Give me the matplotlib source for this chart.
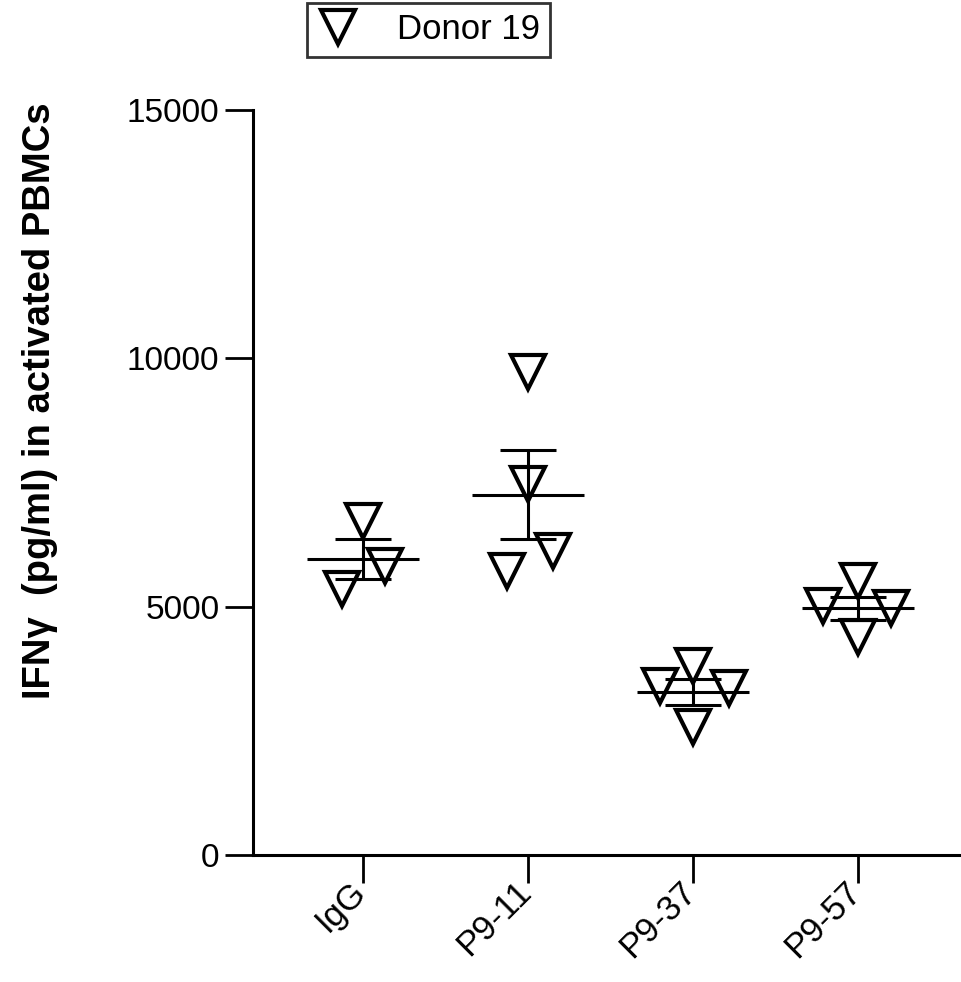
import matplotlib
matplotlib.use('Agg')
import matplotlib.pyplot as plt
from matplotlib.lines import Line2D
from matplotlib.transforms import ScaledTranslation
import numpy as np

plt.rcParams['font.family'] = ['Liberation Sans', 'DejaVu Sans']

# IFN-gamma readings (pg/ml) per antibody, one donor
groups = ['IgG', 'P9-11', 'P9-37', 'P9-57']
igg = [6727, 5818, 5354]
p9_11 = [9717, 7475, 6121, 5717]
p9_37 = [3798, 3394, 3354, 2586]
p9_57 = [5515, 5010, 4970, 4384]
values = [igg, p9_11, p9_37, p9_57]

# horizontal scatter of the points inside each column
spread = [[0, 0.13, -0.13],
          [0, 0, 0.15, -0.13],
          [0, -0.2, 0.22, 0],
          [0, -0.21, 0.2, 0]]

fig = plt.figure(figsize=(9.61, 9.82), dpi=100)
ax = fig.add_axes([0.263, 0.1293, 0.736, 0.7587])

for i, (vals, dx) in enumerate(zip(values, spread)):
    vals = np.array(vals, dtype=float)
    xs = i + np.array(dx)
    ax.plot(xs, vals, 'v', ms=25, mfc='none', mec='black', mew=3,
            zorder=3, clip_on=False)
    mean = vals.mean()
    sem = vals.std(ddof=1) / np.sqrt(len(vals))
    ax.hlines(mean, i - 0.34, i + 0.34, color='black', lw=2.2, zorder=2)
    ax.errorbar(i, mean, yerr=sem, fmt='none', ecolor='black', elinewidth=2.2,
                capsize=20, capthick=2.2, zorder=2)

ax.set_xlim(-0.67, 3.62)
ax.set_ylim(0, 15000)
ax.set_yticks([0, 5000, 10000, 15000])
ax.set_xticks(range(len(groups)))
ax.set_xticklabels(groups, rotation=45, ha='right', va='center',
                   rotation_mode='anchor')
ax.tick_params(axis='both', length=20, width=2, color='black')
ax.tick_params(axis='y', labelsize=24, pad=4)
ax.tick_params(axis='x', labelsize=25, pad=3)
# nudge the slanted category names so they end right under the ticks
shift = ScaledTranslation(-1.5 / 72, 0, fig.dpi_scale_trans)
for lbl in ax.get_xticklabels():
    lbl.set_transform(lbl.get_transform() + shift)

for side in ['top', 'right']:
    ax.spines[side].set_visible(False)
for side in ['left', 'bottom']:
    ax.spines[side].set_linewidth(2.2)

ax.set_ylabel('IFN\u03b3  (pg/ml) in activated PBMCs', fontsize=27.5,
              fontweight='bold')
ax.yaxis.set_label_coords(-0.275, 0.61)

handle = Line2D([], [], ls='none', marker='v', ms=25, mfc='none',
                mec='black', mew=3)
leg = ax.legend([handle], ['Donor 19'], loc='upper left',
                bbox_to_anchor=(0.319, 0.997), bbox_transform=fig.transFigure,
                fontsize=25, frameon=True, fancybox=False, borderaxespad=0,
                handlelength=1.2, handletextpad=1.1, borderpad=0.3)
leg.get_frame().set_edgecolor('black')
leg.get_frame().set_linewidth(2)

fig.savefig('out.png', dpi=100)
